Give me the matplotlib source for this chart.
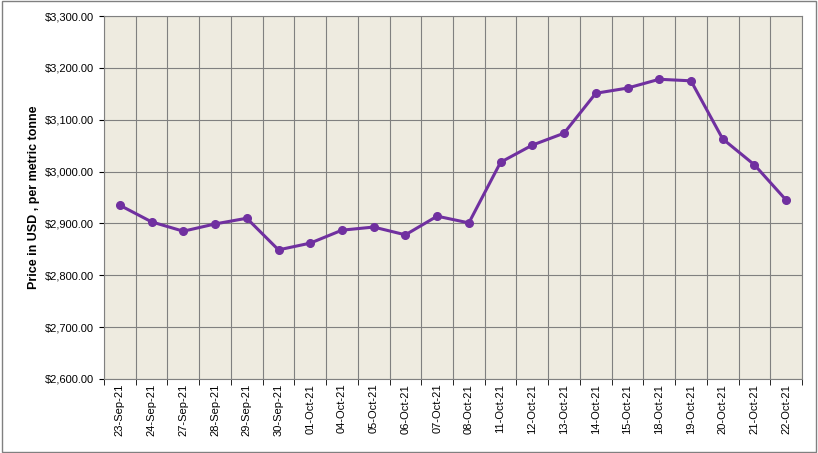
import matplotlib
matplotlib.use("Agg")
import matplotlib.pyplot as plt
import numpy as np
from matplotlib.ticker import FuncFormatter, MultipleLocator

plt.rcParams['font.family'] = ['Liberation Sans', 'DejaVu Sans']

dates = ["23-Sep-21","24-Sep-21","27-Sep-21","28-Sep-21","29-Sep-21","30-Sep-21",
         "01-Oct-21","04-Oct-21","05-Oct-21","06-Oct-21","07-Oct-21","08-Oct-21",
         "11-Oct-21","12-Oct-21","13-Oct-21","14-Oct-21","15-Oct-21","18-Oct-21",
         "19-Oct-21","20-Oct-21","21-Oct-21","22-Oct-21"]
prices = [2935,2903,2885,2899,2910,2849,2862,2887,2893,2878,2914,2901,
          3018,3051,3074,3151,3161,3178,3175,3063,3013,2945]

fig = plt.figure(figsize=(8.18,4.53), dpi=100)
ax = fig.add_axes([104/818, 1-379/453, (802-104)/818, (379-16)/453])
ax.set_facecolor("#EEEBE0")
x = np.arange(len(dates))
ax.plot(x, prices, color="#7030A0", lw=2.2, marker="o", ms=5.5, zorder=3)
ax.set_xlim(-0.5, len(dates)-0.5)
ax.set_ylim(2600, 3300)
ax.yaxis.set_major_locator(MultipleLocator(100))
ax.yaxis.set_major_formatter(FuncFormatter(lambda v, p: f"${v:,.2f}"))
ax.set_xticks(x)
ax.set_xticklabels(dates, rotation=90, fontsize=8)
ax.tick_params(axis="y", labelsize=8)
ax.set_xticks(np.arange(-0.5, len(dates)), minor=True)
ax.grid(which="minor", axis="x", color="#808080", lw=0.8)
ax.grid(which="major", axis="y", color="#808080", lw=0.8)
ax.tick_params(axis="x", which="major", length=0)
ax.tick_params(axis="x", which="minor", length=4)
for s in ax.spines.values():
    s.set_color("#808080")
ax.set_ylabel("Price in USD , per metric tonne", fontsize=9, fontweight="bold")
fig.patches.append(plt.Rectangle((0.002,0.002),0.996,0.996, transform=fig.transFigure,
                                 fill=False, edgecolor="#808080", lw=1))
fig.savefig("out.png", dpi=100)
